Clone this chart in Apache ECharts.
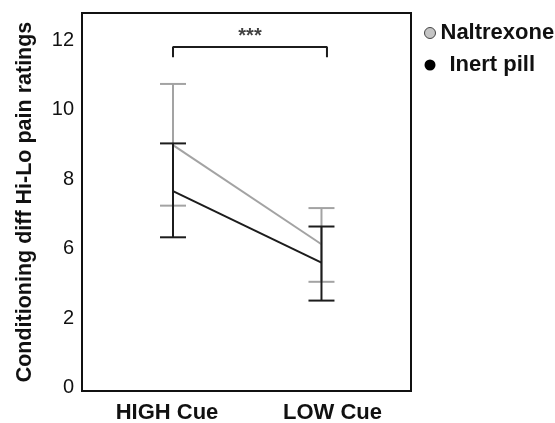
<!DOCTYPE html>
<html>
<head>
<meta charset="utf-8">
<script src="https://cdn.jsdelivr.net/npm/echarts@6/dist/echarts.min.js"></script>
<style>html,body{margin:0;padding:0;background:#fff;}#c{width:555px;height:423px;}</style>
</head>
<body>
<div id="c"></div>
<script>
// ---- data ----
var categories = ['HIGH Cue', 'LOW Cue'];
var catPos = [0, 1];
var yTickValues = [2, 4, 6, 8, 10, 12];
var yTickLabels = ['0', '2', '6', '8', '10', '12'];
var seriesNames = ['Naltrexone', 'Inert pill'];
var naltrexoneMean = [8.98, 6.13];
var naltrexoneLow  = [7.24, 5.05];
var naltrexoneHigh = [10.74, 7.17];
var inertMean = [7.66, 5.60];
var inertLow  = [6.33, 4.51];
var inertHigh = [9.03, 6.64];
var bracketX = [0, 1.037];
var bracketTop = 11.8;
var bracketFoot = 11.51;
var sigLabel = '***';
var sigY = 12.1;

var FONT = '"Liberation Sans", Arial, Helvetica, sans-serif';
var GRAY = '#a3a3a3';
var BLACK = '#1c1c1c';

function pts(means) { return catPos.map(function (x, i) { return [x, means[i]]; }); }
function errData(lo, hi) { return catPos.map(function (x, i) { return [x, lo[i], hi[i]]; }); }

function errRender(color) {
  return function (params, api) {
    var x = api.value(0);
    var p1 = api.coord([x, api.value(1)]);
    var p2 = api.coord([x, api.value(2)]);
    var hw = 13;
    var st = { stroke: color, lineWidth: 2 };
    return {
      type: 'group',
      children: [
        { type: 'line', shape: { x1: p1[0], y1: p1[1], x2: p2[0], y2: p2[1] }, style: st },
        { type: 'line', shape: { x1: p1[0] - hw, y1: p1[1], x2: p1[0] + hw, y2: p1[1] }, style: st },
        { type: 'line', shape: { x1: p2[0] - hw, y1: p2[1], x2: p2[0] + hw, y2: p2[1] }, style: st }
      ]
    };
  };
}

var chart = echarts.init(document.getElementById('c'), null, { renderer: 'canvas' });
chart.setOption({
  animation: false,
  backgroundColor: '#fff',
  grid: { left: 82, right: 144, top: 13, bottom: 32, show: true, borderColor: '#111', borderWidth: 2, backgroundColor: 'transparent', containLabel: false, outerBoundsMode: 'none' },
  legend: {
    orient: 'vertical', left: 419, top: 17, itemWidth: 11, itemHeight: 11, itemGap: 10,
    textStyle: { fontFamily: FONT, fontWeight: 'bold', fontSize: 22, color: '#111' },
    data: [
      { name: seriesNames[0], icon: 'circle', itemStyle: { color: '#c4c4c4', borderColor: '#444', borderWidth: 1 } },
      { name: seriesNames[1], icon: 'circle', itemStyle: { color: '#000' }, textStyle: { padding: [0, 0, 0, 9] } }
    ]
  },
  xAxis: {
    type: 'value', min: -0.613, max: 1.603,
    axisLine: { show: false }, axisTick: { show: false }, splitLine: { show: false },
    axisLabel: {
      customValues: catPos, margin: 11,
      fontFamily: FONT, fontWeight: 'bold', fontSize: 22, color: '#111',
      formatter: function (v) { var i = catPos.indexOf(v); return i === 0 ? '{a|' + categories[0] + '}' : (i === 1 ? '{b|' + categories[1] + '}' : ''); },
      rich: {
        a: { fontFamily: FONT, fontWeight: 'bold', fontSize: 22, color: '#111', padding: [0, 12, 0, 0] },
        b: { fontFamily: FONT, fontWeight: 'bold', fontSize: 22, color: '#111', padding: [0, 0, 0, 22] }
      }
    }
  },
  yAxis: {
    type: 'value', min: 1.91, max: 12.78,
    name: 'Conditioning diff Hi-Lo pain ratings', nameLocation: 'middle', nameGap: 46,
    nameTextStyle: { fontFamily: FONT, fontWeight: 'bold', fontSize: 21.5, color: '#111' },
    axisLine: { show: false }, axisTick: { show: false }, splitLine: { show: false },
    axisLabel: {
      customValues: yTickValues, margin: 8,
      fontFamily: FONT, fontSize: 20, color: '#111',
      formatter: function (v) { var i = yTickValues.indexOf(v); return i >= 0 ? yTickLabels[i] : ''; }
    }
  },
  series: [
    { name: seriesNames[0], type: 'line', data: pts(naltrexoneMean), symbol: 'none', lineStyle: { color: GRAY, width: 2 }, itemStyle: { color: '#c4c4c4' }, z: 2 },
    { name: seriesNames[0], type: 'custom', data: errData(naltrexoneLow, naltrexoneHigh), renderItem: errRender(GRAY), z: 2 },
    { name: seriesNames[1], type: 'line', data: pts(inertMean), symbol: 'none', lineStyle: { color: BLACK, width: 2 }, itemStyle: { color: '#000' }, z: 3 },
    { name: seriesNames[1], type: 'custom', data: errData(inertLow, inertHigh), renderItem: errRender(BLACK), z: 3 },
    {
      type: 'line', silent: true, symbol: 'none', lineStyle: { color: BLACK, width: 2 },
      data: [[bracketX[0], bracketFoot], [bracketX[0], bracketTop], [bracketX[1], bracketTop], [bracketX[1], bracketFoot]]
    },
    {
      type: 'scatter', silent: true, symbolSize: 0,
      data: [[(bracketX[0] + bracketX[1]) / 2, sigY]],
      label: { show: true, position: 'inside', formatter: sigLabel, fontFamily: FONT, fontWeight: 'bold', fontSize: 20, color: '#111' }
    }
  ]
});
</script>
</body>
</html>
